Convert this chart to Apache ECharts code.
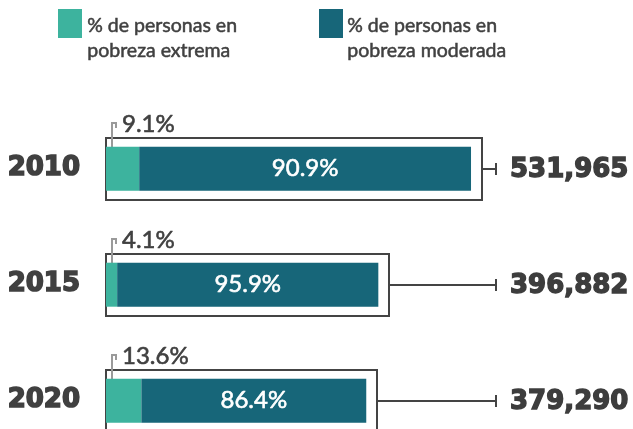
<!DOCTYPE html>
<html>
<head>
<meta charset="utf-8">
<script src="https://cdn.jsdelivr.net/npm/echarts@6/dist/echarts.min.js"></script>
<style>
  html, body { margin: 0; padding: 0; background: #fff; }
  #chart { width: 633px; height: 429px; }
</style>
</head>
<body>
<div id="chart"></div>
<script>
// datos
const years = ['2010', '2015', '2020'];
const totals = [531965, 396882, 379290];
const extremePct = [9.1, 4.1, 13.6];
const moderatePct = [90.9, 95.9, 86.4];
const legendNames = ['% de personas en\npobreza extrema', '% de personas en\npobreza moderada'];

const TEAL = '#3db39e';
const DARK = '#176679';
const TEXT = '#404040';

const extremeVals = totals.map((t, i) => t * extremePct[i] / 100);
const moderateVals = totals.map((t, i) => t * moderatePct[i] / 100);

const chart = echarts.init(document.getElementById('chart'));

// marco, conector, total y etiqueta de pobreza extrema
function renderRow(params, api) {
  const i = params.dataIndex;
  const c0 = api.coord([0, i]);
  const c1 = api.coord([api.value(0), i]);
  const cy = Math.round(c0[1]);
  const x0 = Math.round(c0[0]);
  const right = Math.round(c1[0]) + 11;
  const colX = 496;
  return {
    type: 'group',
    children: [
      { type: 'rect', shape: { x: x0, y: cy - 31, width: right - x0, height: 62 },
        style: { fill: 'none', stroke: '#444', lineWidth: 2 } },
      { type: 'line', shape: { x1: right, y1: cy, x2: colX, y2: cy },
        style: { stroke: '#444', lineWidth: 2 } },
      { type: 'line', shape: { x1: colX, y1: cy - 6, x2: colX, y2: cy + 6 },
        style: { stroke: '#444', lineWidth: 2 } },
      { type: 'polyline', shape: { points: [[x0 + 6, cy - 22], [x0 + 6, cy - 46], [x0 + 10, cy - 46], [x0 + 10, cy - 41]] },
        style: { fill: 'none', stroke: '#9a9a9a', lineWidth: 2 } },
      { type: 'text', style: { text: extremePct[i].toFixed(1) + '%', x: x0 + 16, y: cy - 45,
        fill: TEXT, fontSize: 24, fontFamily: 'Lato', align: 'left', verticalAlign: 'middle',
        stroke: TEXT, lineWidth: 0.6 } },
      { type: 'text', style: { text: totals[i].toLocaleString('en-US'), x: 510, y: cy + 1,
        fill: '#3d3d3d', fontSize: 26, fontWeight: 'bold', fontFamily: 'DejaVu Sans',
        align: 'left', verticalAlign: 'middle', stroke: '#3d3d3d', lineWidth: 1.4 } }
    ]
  };
}

const option = {
  animation: false,
  grid: { left: 106, top: 110.7, width: 411.7, height: 348, outerBoundsMode: 'none' },
  xAxis: { type: 'value', min: 0, max: 600000, show: false },
  yAxis: {
    type: 'category',
    inverse: true,
    data: years,
    axisLine: { show: false },
    axisTick: { show: false },
    axisLabel: {
      margin: 26,
      color: TEXT,
      fontSize: 26,
      fontWeight: 'bold',
      fontFamily: 'DejaVu Sans',
      textBorderColor: TEXT,
      textBorderWidth: 1.6
    }
  },
  graphic: [
    { type: 'rect', left: 58, top: 9, shape: { width: 24, height: 29 }, style: { fill: TEAL } },
    { type: 'text', left: 87, top: 13, style: { text: legendNames[0], fill: TEXT, fontSize: 19.5,
      lineHeight: 25, fontFamily: 'Lato', stroke: TEXT, lineWidth: 0.5 } },
    { type: 'rect', left: 319, top: 9, shape: { width: 24, height: 29 }, style: { fill: DARK } },
    { type: 'text', left: 347, top: 13, style: { text: legendNames[1], fill: TEXT, fontSize: 19.5,
      lineHeight: 25, fontFamily: 'Lato', stroke: TEXT, lineWidth: 0.5 } }
  ],
  series: [
    {
      type: 'custom',
      z: 1,
      renderItem: renderRow,
      encode: { x: 0, y: 1 },
      data: totals.map((t, i) => [t, i])
    },
    {
      name: 'extrema',
      type: 'bar',
      stack: 'p',
      z: 2,
      barWidth: 44,
      itemStyle: { color: TEAL },
      data: extremeVals
    },
    {
      name: 'moderada',
      type: 'bar',
      stack: 'p',
      z: 2,
      barWidth: 44,
      itemStyle: { color: DARK },
      label: {
        show: true,
        position: 'inside',
        color: '#fff',
        fontSize: 24,
        fontFamily: 'Lato',
        textBorderColor: '#fff',
        textBorderWidth: 0.6,
        formatter: p => moderatePct[p.dataIndex].toFixed(1) + '%'
      },
      data: moderateVals
    }
  ]
};

chart.setOption(option);
</script>
</body>
</html>
